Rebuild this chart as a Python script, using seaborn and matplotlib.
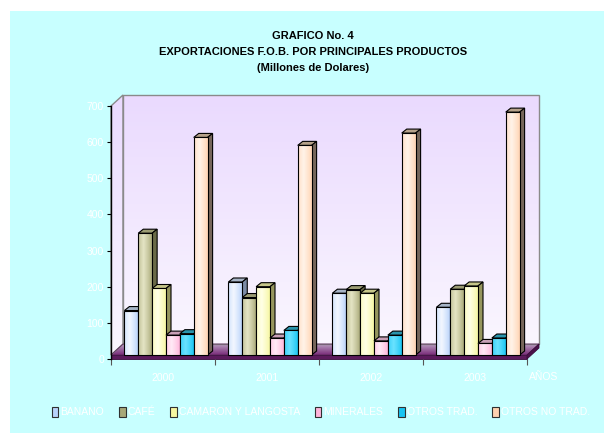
import numpy as np
import pandas as pd
import seaborn as sns
import matplotlib.pyplot as plt
from matplotlib.patches import Polygon, Rectangle
from matplotlib.transforms import Affine2D
from matplotlib.colors import to_rgb

# Data (millones de dolares)
years = ["2000", "2001", "2002", "2003"]
products = ["BANANO", "CAFÉ", "CAMARON Y LANGOSTA", "MINERALES",
            "OTROS TRAD.", "OTROS NO TRAD."]
banano = [123, 202, 171, 132]
cafe = [337, 159, 181, 182]
camaron = [184, 189, 171, 191]
minerales = [55, 47, 39, 32]
otros_trad = [59, 68, 55, 47]
otros_no_trad = [602, 580, 614, 672]
yticks = [0, 100, 200, 300, 400, 500, 600, 700]

series = [banano, cafe, camaron, minerales, otros_trad, otros_no_trad]
df = pd.DataFrame([
    {"year": y, "product": p, "value": v}
    for p, vals in zip(products, series)
    for y, v in zip(years, vals)
])

# colours: front face edge / highlight, top face, side face
front = ["#b8d2fa", "#a8a878", "#f6f6a0", "#ffb4da", "#18c4f2", "#ffd2b0"]
light = ["#f2f7ff", "#e4e4c4", "#ffffe6", "#ffeaf6", "#6ae2ff", "#fff3e8"]
top_c = ["#a6b4c6", "#9c9c74", "#c6c68a", "#c8a0b6", "#2a94ac", "#b6a28a"]
side_c = ["#7c8ca6", "#6a6a48", "#96965e", "#9c748a", "#17708a", "#76665a"]

FONT = ["Liberation Sans Narrow", "Liberation Sans", "DejaVu Sans"]
plt.rcParams["font.family"] = FONT

W, H = 604, 433
fig = plt.figure(figsize=(W / 100, H / 100), dpi=100, facecolor="white")

# background panel + walls/floor drawn in an image-pixel axes
bg = fig.add_axes([0, 0, 1, 1])
bg.set_xlim(0, W)
bg.set_ylim(H, 0)
bg.axis("off")
bg.add_patch(Rectangle((10, 11), W - 10, H - 11, facecolor="#c8ffff",
                       edgecolor="none", zorder=0))

AX_L, AX_R, AX_T, AX_B = 111, 527, 106, 359
DX, DY = 12, 11
FLOOR = 4

wall_grad = np.linspace(0, 1, 64)[:, None]
wall_cols = (np.array(to_rgb("#eadafe")) * (1 - wall_grad[..., None])
             + np.array(to_rgb("#faf6ff")) * wall_grad[..., None])

back_y1 = AX_B - FLOOR - DY
back = Rectangle((AX_L + DX, AX_T - DY), AX_R - AX_L, back_y1 - (AX_T - DY),
                 facecolor="none", edgecolor="#8a8a8a", lw=1, zorder=2)
bg.add_patch(back)
im = bg.imshow(wall_cols, extent=(AX_L + DX, AX_R + DX, back_y1, AX_T - DY),
               aspect="auto", zorder=1)
im.set_clip_path(back)

left_wall = Polygon([(AX_L, AX_T), (AX_L + DX, AX_T - DY),
                     (AX_L + DX, back_y1), (AX_L, AX_B - FLOOR)],
                    closed=True, facecolor="none", edgecolor="#8a8a8a",
                    lw=1, zorder=2)
bg.add_patch(left_wall)
im2 = bg.imshow(wall_cols, extent=(AX_L, AX_L + DX, AX_B - FLOOR, AX_T - DY),
                aspect="auto", zorder=1)
im2.set_clip_path(left_wall)

# floor
floor_top = Polygon([(AX_L, AX_B - FLOOR), (AX_R, AX_B - FLOOR),
                     (AX_R + DX, back_y1), (AX_L + DX, back_y1)],
                    closed=True, facecolor="none", edgecolor="#5a2a5a",
                    lw=0.6, zorder=2)
bg.add_patch(floor_top)
fg = np.linspace(0, 1, 32)[:, None]
floor_cols = (np.array(to_rgb("#b89cc0")) * (1 - fg[..., None])
              + np.array(to_rgb("#7a2c7a")) * fg[..., None])
im3 = bg.imshow(floor_cols, extent=(AX_L, AX_R + DX, AX_B - FLOOR, back_y1),
                aspect="auto", zorder=1)
im3.set_clip_path(floor_top)
bg.add_patch(Rectangle((AX_L, AX_B - FLOOR), AX_R - AX_L, FLOOR,
                       facecolor="#5c1a5c", edgecolor="#3a0a3a", lw=0.6, zorder=2))
bg.add_patch(Polygon([(AX_R, AX_B - FLOOR), (AX_R + DX, back_y1),
                      (AX_R + DX, back_y1 + FLOOR), (AX_R, AX_B)],
                     closed=True, facecolor="#4a104a", edgecolor="#3a0a3a",
                     lw=0.6, zorder=2))

# main axes = front plane of the 3D box
ax = fig.add_axes([AX_L / W, 1 - AX_B / H, (AX_R - AX_L) / W, (AX_B - AX_T) / H])
ax.patch.set_visible(False)

sns.barplot(data=df, x="year", y="value", hue="product", hue_order=products,
            palette=front, saturation=1, width=0.8, errorbar=None,
            edgecolor="black", linewidth=0.8, legend=False, ax=ax)

ax.set_xlim(-0.5, 3.5)
ax.set_ylim(0, 700)
ax.set_yticks(yticks)
ax.set_yticklabels([str(t) for t in yticks])
ax.tick_params(axis="y", colors="black", labelcolor="white", labelsize=7.5,
               length=3, width=0.8, pad=2)
ax.set_xticks(range(len(years)))
ax.set_xticklabels(years)
ax.set_xticks([-0.5, 0.5, 1.5, 2.5, 3.5], minor=True)
ax.tick_params(axis="x", which="major", length=0, labelcolor="white",
               labelsize=7.5, pad=10)
ax.tick_params(axis="x", which="minor", length=4, width=0.8, color="#555555")
ax.set_xlabel("")
ax.set_ylabel("")
for s in ["top", "right", "bottom"]:
    ax.spines[s].set_visible(False)
ax.spines["left"].set_linewidth(1)
ax.text(1.04, -0.07, "AÑOS", transform=ax.transAxes, color="white",
        fontsize=7.5, ha="center", va="center")

# 3D look for each seaborn bar: shift front face, add gradient, top and side
SX, SY = 3, FLOOR
BDX, BDY = 5, 4
shift = Affine2D().translate(SX, SY)
to_img = bg.transData.inverted()
bars = []
for k, cont in enumerate(ax.containers):
    for p in cont.patches:
        bars.append((p.get_x(), k, p))
bars.sort(key=lambda b: b[0])

prof = np.linspace(0, 1, 48)
mix = np.clip(1 - np.abs(prof - 0.4) / 0.6, 0, 1) ** 0.8

for i, (_, k, p) in enumerate(bars):
    z = 3 + i * 0.01
    p.set_transform(ax.transData + shift)
    p.set_facecolor("none")
    p.set_zorder(z + 0.006)
    p.set_clip_on(False)

    c0, c1 = np.array(to_rgb(front[k])), np.array(to_rgb(light[k]))
    grad = (c0 * (1 - mix[:, None]) + c1 * mix[:, None])[None, :, :]
    x0, w, h = p.get_x(), p.get_width(), p.get_height()
    gi = ax.imshow(grad, extent=(x0, x0 + w, 0, h), aspect="auto",
                   transform=ax.transData + shift, zorder=z + 0.004)
    gi.set_clip_path(p)

    # corners in figure-pixel coordinates (y down)
    (xl, yb), (xr, yt) = ax.transData.transform([(x0, 0), (x0 + w, h)])
    (xl, yb), (xr, yt) = to_img.transform([(xl + SX, yb + SY), (xr + SX, yt + SY)])
    top_face = Polygon([(xl, yt), (xr, yt), (xr + BDX, yt - BDY), (xl + BDX, yt - BDY)],
                       closed=True, facecolor=top_c[k], edgecolor="black",
                       lw=0.8, transform=bg.transData, zorder=z + 0.002,
                       clip_on=False)
    side_face = Polygon([(xr, yt), (xr + BDX, yt - BDY), (xr + BDX, yb - BDY), (xr, yb)],
                        closed=True, facecolor=side_c[k], edgecolor="black",
                        lw=0.8, transform=bg.transData, zorder=z + 0.002,
                        clip_on=False)
    ax.add_artist(top_face)
    ax.add_artist(side_face)

ax.set_xlim(-0.5, 3.5)
ax.set_ylim(0, 700)

# title
title_lines = ["GRAFICO No. 4",
               "EXPORTACIONES F.O.B. POR PRINCIPALES PRODUCTOS",
               "(Millones de Dolares)"]
for line, yy in zip(title_lines, [36, 52, 68]):
    fig.text(313 / W, 1 - yy / H, line, ha="center", va="center",
             fontsize=8, fontweight="bold", color="black")

# legend
handles = [Rectangle((0, 0), 1, 1, facecolor=c, edgecolor="#303030", lw=0.8)
           for c in front]
fig.legend(handles, products, ncol=6, loc="center",
           bbox_to_anchor=(321 / W, 1 - 412 / H), frameon=False,
           handlelength=0.6, handleheight=1.2, handletextpad=0.2,
           columnspacing=1.45, fontsize=7.5, labelcolor="white")

fig.savefig("out.png", dpi=100, facecolor="white")
